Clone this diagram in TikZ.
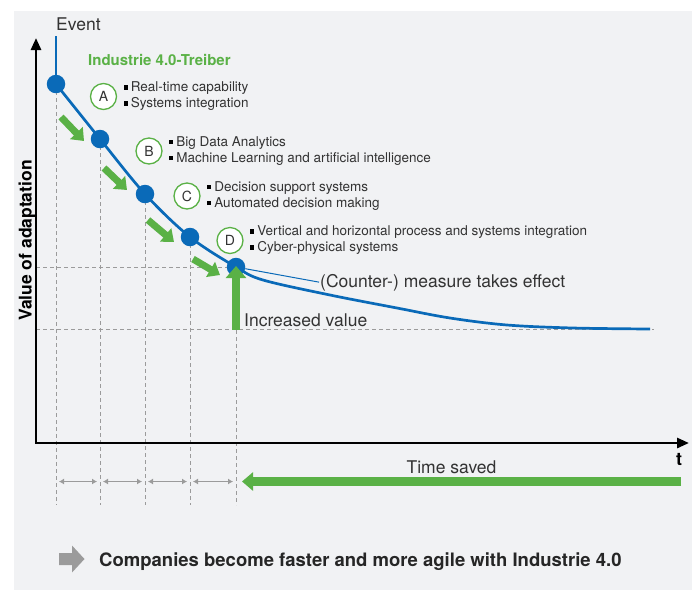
\documentclass[tikz,border=0pt]{standalone}
\usepackage{fontspec}
\setmainfont{TeX Gyre Heros}
\usetikzlibrary{arrows.meta,positioning,calc}
\definecolor{adblue}{HTML}{0A6AB8}
\definecolor{adgreen}{HTML}{5AB146}
\definecolor{adgrey}{HTML}{9B9B9B}
\definecolor{adback}{HTML}{F1F2F4}
\definecolor{adtext}{HTML}{333333}
\newcommand\sq{{\color{black}\rule[0.18em]{0.3em}{0.3em}}\hspace{0.22em}}

\begin{document}
\begin{tikzpicture}[x=1pt,y=-1pt,
    dot/.style={circle,fill=adblue,minimum size=18.5pt,inner sep=0pt},
    lettr/.style={circle,draw=adgreen,line width=1.3pt,fill=white,minimum size=26pt,inner sep=0pt,text=adtext,font=\fontsize{14}{14}\selectfont},
    bullets/.style={align=left,inner sep=0pt,text=adtext,font=\fontsize{13.5}{16}\selectfont},
    guide/.style={adgrey,dash pattern=on 4pt off 3pt,line width=1pt},
    stepgo/.style={adgreen,line width=7pt,-{Triangle[width=17pt,length=11pt]}},
    span/.style={adgrey,line width=1.4pt,{Latex[length=5pt,width=6pt]}-{Latex[length=5pt,width=6pt]}},
    big/.style={inner sep=0pt,text=adtext,font=\fontsize{17.5}{17.5}\selectfont},
    curve/.style={adblue,line width=2.7pt}]
  \useasboundingbox (0,0) rectangle (692,590);
  \fill[adback] (14,11) rectangle (692,590);

  % points of the curve
  \coordinate (pA) at (56,84);
  \coordinate (pB) at (100,139);
  \coordinate (pC) at (145,194);
  \coordinate (pD) at (190,237);
  \coordinate (pE) at (236,267);
  \coordinate (flat) at (654,329.5);
  \coordinate (O) at (36,443);
  \coordinate (bot) at (0,505);
  \coordinate (tsR) at (681,481.5);
  \coordinate (evtop) at (56,36);

  % guide lines
  \foreach \p in {pA,pB,pC,pD,pE}
    \draw[guide] (\p) -- (\p |- bot);
  \draw[guide] (O |- pE) -- (pE);
  \draw[guide] (O |- flat) -- (flat);

  % axes
  \draw[line width=2.7pt,{Triangle[width=10pt,length=12pt]}-{Triangle[width=10pt,length=12pt]}]
    (36,38) -- (O) -- (689,443);
  \node[rotate=90,anchor=base,inner sep=0pt,font=\bfseries\fontsize{17.5}{17.5}\selectfont] (ylab) at (31.5,240.5) {Value of adaptation};
  \node[anchor=base,inner sep=0pt,font=\bfseries\fontsize{18}{18}\selectfont] (tlab) at (679,465) {t};

  % curve
  \draw[adblue,line width=1.2pt] (evtop) -- (pA);
  \node[big,anchor=base west] (event) at (56,30) {Event};
  \draw[curve] plot[smooth,tension=0.55] coordinates {(pA) (pB) (pC) (pD) (pE) (263,280) (330,295) (397,308) (450,318) (507,325) (573,328) (650,329)};

  \node[dot] (dA) at (pA) {};
  \node[dot] (dB) at (pB) {};
  \node[dot] (dC) at (pC) {};
  \node[dot] (dD) at (pD) {};
  \node[dot] (dE) at (pE) {};

  % drivers
  \node[anchor=base west,inner sep=0pt,text=adgreen,font=\bfseries\fontsize{15}{15}\selectfont] (drv) at (88,65) {Industrie 4.0-Treiber};
  \node[lettr] (cA) at (103.5,96.5) {A};
  \node[bullets,right=6.5pt of cA] (tA) {\sq Real-time capability\\\sq Systems integration};
  \node[lettr] (cB) at (149,151) {B};
  \node[bullets,right=6.5pt of cB] (tB) {\sq Big Data Analytics\\\sq Machine Learning and artificial intelligence};
  \node[lettr] (cC) at (187,196) {C};
  \node[bullets,right=6.5pt of cC] (tC) {\sq Decision support systems\\\sq Automated decision making};
  \node[lettr] (cD) at (230,240.5) {D};
  \node[bullets,right=6.5pt of cD] (tD) {\sq Vertical and horizontal process and systems integration\\\sq Cyber-physical systems};

  \foreach \a/\b/\s/\t in {pA/pB/{5,33}/{-16,2},pB/pC/{4,29}/{-18,-4},pC/pD/{3,26}/{-16,5},pD/pE/{3,22}/{-16,8}}
    \draw[stepgo] ($(\a)+(\s)$) -- ($(\b)+(\t)$);

  % effect
  \node[big,anchor=base west] (cm) at (320,287) {(Counter-) measure takes effect};
  \draw[adblue,line width=1pt,shorten >=1pt] (dE) -- (cm.west);
  \draw[adgreen,line width=8pt,-{Triangle[width=20pt,length=12pt]}] (pE |- flat) -- ($(pE)+(0,-1)$);
  \node[big,anchor=base west] (inc) at (244,326) {Increased value};

  % time saved
  \foreach \a/\b in {pA/pB,pB/pC,pC/pD,pD/pE}
    \draw[span] ($(\a |- tsR)+(3,0)$) -- ($(\b |- tsR)+(-3,0)$);
  \draw[adgreen,line width=8.5pt,-{Triangle[width=18pt,length=11pt]}] (tsR) -- ($(pE |- tsR)+(6,0)$);
  \node[big,anchor=base] (ts) at (451.5,473) {Time saved};

  % message
  \fill[adgrey] (59,553) -- (72,553) -- (72,545.5) -- (84.5,559) -- (72,572.5) -- (72,565) -- (59,565) -- cycle;
  \node[anchor=base west,inner sep=0pt,text=black!85,font=\bfseries\fontsize{18.5}{18.5}\selectfont] (msg) at (99,566.5) {Companies become faster and more agile with Industrie 4.0};
\end{tikzpicture}
\end{document}
